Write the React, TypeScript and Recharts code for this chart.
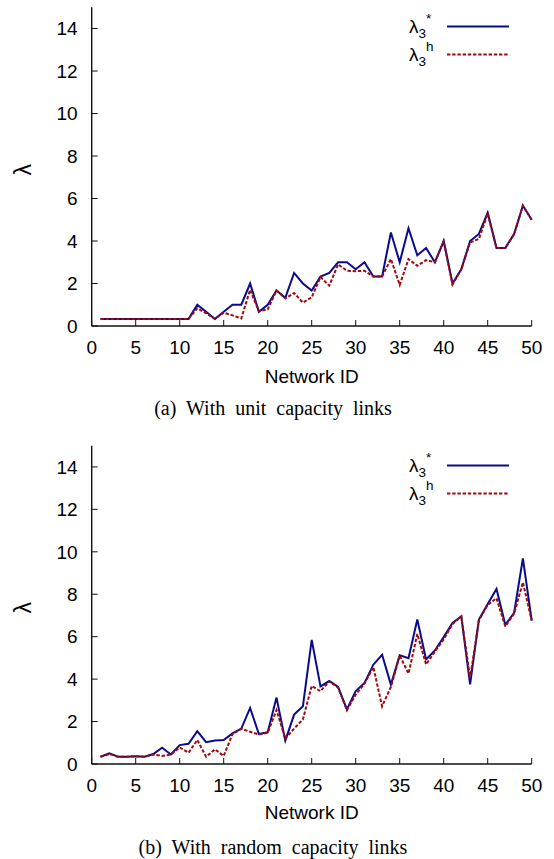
import { LineChart, Line, XAxis, YAxis, Legend } from 'recharts';

// network ids along the x axis
const NETWORK_IDS = [
  1, 2, 3, 4, 5, 6, 7, 8, 9, 10, 11, 12, 13, 14, 15, 16, 17, 18, 19, 20, 21, 22, 23, 24, 25,
  26, 27, 28, 29, 30, 31, 32, 33, 34, 35, 36, 37, 38, 39, 40, 41, 42, 43, 44, 45, 46, 47, 48, 49, 50,
];

// (a) unit capacity links
const UNIT_OPT = [
  0.33, 0.33, 0.33, 0.33, 0.33, 0.33, 0.33, 0.33, 0.33, 0.33, 0.33, 1.0, 0.67, 0.33, 0.67, 1.0, 1.0,
  2.0, 0.67, 1.0, 1.67, 1.33, 2.5, 2.0, 1.67, 2.33, 2.5, 3.0, 3.0, 2.67, 3.0, 2.33, 2.33, 4.4, 3.0,
  4.6, 3.33, 3.67, 3.0, 4.0, 2.0, 2.67, 4.0, 4.33, 5.33, 3.67, 3.67, 4.33, 5.67, 5.0,
];
const UNIT_HEUR = [
  0.33, 0.33, 0.33, 0.33, 0.33, 0.33, 0.33, 0.33, 0.33, 0.33, 0.33, 0.83, 0.6, 0.33, 0.63, 0.5, 0.36,
  1.7, 0.7, 0.78, 1.67, 1.3, 1.55, 1.1, 1.35, 2.3, 1.9, 2.9, 2.6, 2.58, 2.6, 2.33, 2.33, 3.15, 1.93,
  3.15, 2.83, 3.1, 3.0, 4.0, 1.95, 2.67, 3.93, 4.1, 5.3, 3.67, 3.67, 4.33, 5.66, 5.0,
];

// (b) random capacity links
const RAND_OPT = [
  0.34, 0.5, 0.34, 0.34, 0.37, 0.34, 0.47, 0.77, 0.45, 0.89, 0.95, 1.55, 1.03, 1.11, 1.13, 1.44, 1.67,
  2.64, 1.41, 1.5, 3.13, 1.1, 2.33, 2.72, 5.85, 3.66, 3.91, 3.63, 2.57, 3.44, 3.82, 4.68, 5.15, 3.74,
  5.12, 4.99, 6.81, 4.93, 5.35, 5.98, 6.65, 6.96, 3.75, 6.81, 7.54, 8.25, 6.56, 7.12, 9.69, 6.76,
];
const RAND_HEUR = [
  0.34, 0.47, 0.34, 0.34, 0.37, 0.34, 0.45, 0.38, 0.45, 0.78, 0.53, 1.13, 0.34, 0.69, 0.38, 1.41, 1.66,
  1.52, 1.39, 1.47, 2.54, 1.2, 1.67, 2.1, 3.68, 3.43, 3.9, 3.6, 2.54, 3.27, 3.79, 4.57, 2.72, 3.63,
  5.12, 4.26, 6.13, 4.69, 5.3, 5.87, 6.6, 6.95, 4.05, 6.76, 7.5, 7.81, 6.48, 7.09, 8.56, 6.76,
];

const X_TICKS = [0, 5, 10, 15, 20, 25, 30, 35, 40, 45, 50];
const Y_TICKS = [0, 2, 4, 6, 8, 10, 12, 14];
const LEGEND_SUB = '3';
const LEGEND_SUP = ['*', 'h'];

const BLUE = '#0a0a8e';
const RED = '#a00a0a';
const SANS = '"Liberation Sans", Arial, sans-serif';
const SERIF = '"Liberation Serif", "Times New Roman", serif';
const FRAME = { stroke: '#111', strokeWidth: 1.4 };
const TICK_LEN = 6;
const X_GAP = 14.5;
const Y_GAP = 14;
const FONT = 19;

const buildRows = (opt: number[], heur: number[]) =>
  NETWORK_IDS.map((id, i) => ({ id, opt: opt[i], heur: heur[i] }));

const BottomTick = ({ x, y, payload }: any) => (
  <g>
    <line x1={x} x2={x} y1={y - X_GAP} y2={y - X_GAP - TICK_LEN} stroke="#111" />
    <text x={x} y={y} dy="0.71em" textAnchor="middle" fontFamily={SANS} fontSize={FONT} fill="#000">
      {payload.value}
    </text>
  </g>
);

const LeftTick = ({ x, y, payload }: any) => (
  <g>
    <line x1={x + Y_GAP} x2={x + Y_GAP + TICK_LEN} y1={y} y2={y} stroke="#111" />
    <text x={x} y={y} dy="0.355em" textAnchor="end" fontFamily={SANS} fontSize={FONT} fill="#000">
      {payload.value}
    </text>
  </g>
);

const TopTick = ({ x, y }: any) => <line x1={x} x2={x} y1={y} y2={y + TICK_LEN} stroke="#111" />;
const RightTick = ({ x, y }: any) => <line x1={x} x2={x - TICK_LEN} y1={y} y2={y} stroke="#111" />;

const renderLegend = ({ payload }: any) => (
  <svg width={140} height={64} style={{ display: 'block' }}>
    {(payload || []).map((entry: any, i: number) => {
      const ly = 19.5 + 28 * i;
      return (
        <g key={i}>
          <text x={29} y={ly + 6.7} fontFamily={SANS} fontSize={19} fill="#000">
            λ
            <tspan fontSize={13.5} dy={4.5}>{LEGEND_SUB}</tspan>
            <tspan fontSize={13.5} dy={-15}>{LEGEND_SUP[i]}</tspan>
          </text>
          <line
            x1={67}
            x2={129}
            y1={ly}
            y2={ly}
            stroke={entry.color}
            strokeWidth={2}
            strokeDasharray={entry.payload?.strokeDasharray}
          />
        </g>
      );
    })}
  </svg>
);

interface PanelProps {
  opt: number[];
  heur: number[];
  height: number;
  plotTop: number;
  plotBottom: number;
  labelGap: number;
}

function Panel({ opt, heur, height, plotTop, plotBottom, labelGap }: PanelProps) {
  const data = buildRows(opt, heur);
  const xAxisHeight = 50;
  return (
    <LineChart
      width={554}
      height={height}
      data={data}
      margin={{ top: plotTop, right: 22.3, bottom: height - plotBottom - xAxisHeight, left: 10 }}
    >
      <XAxis
        dataKey="id"
        type="number"
        domain={[0, 50]}
        ticks={X_TICKS}
        height={xAxisHeight}
        tickSize={0}
        tickMargin={X_GAP}
        tickLine={false}
        axisLine={FRAME}
        tick={BottomTick}
        label={{
          content: ({ viewBox }: any) => (
            <text
              x={viewBox.x + viewBox.width / 2}
              y={viewBox.y + labelGap}
              textAnchor="middle"
              dominantBaseline="central"
              fontFamily={SANS}
              fontSize={FONT}
              fill="#000"
            >
              Network ID
            </text>
          ),
        }}
      />
      <XAxis
        xAxisId="top"
        orientation="top"
        type="number"
        domain={[0, 50]}
        ticks={X_TICKS}
        height={0}
        tickSize={0}
        tickMargin={0}
        tickLine={false}
        axisLine={FRAME}
        tick={TopTick}
      />
      <YAxis
        type="number"
        domain={[0, 15]}
        ticks={Y_TICKS}
        width={81.7}
        tickSize={0}
        tickMargin={Y_GAP}
        tickLine={false}
        axisLine={FRAME}
        tick={LeftTick}
        label={{
          content: ({ viewBox }: any) => {
            const cx = viewBox.x + 13;
            const cy = viewBox.y + viewBox.height / 2 + 3;
            return (
              <text
                x={cx}
                y={cy}
                transform={`rotate(-90 ${cx} ${cy})`}
                textAnchor="middle"
                dominantBaseline="central"
                fontFamily={SANS}
                fontSize={23}
                fill="#000"
              >
                λ
              </text>
            );
          },
        }}
      />
      <YAxis
        yAxisId="right"
        orientation="right"
        type="number"
        domain={[0, 15]}
        ticks={Y_TICKS}
        width={0}
        tickSize={0}
        tickMargin={0}
        tickLine={false}
        axisLine={FRAME}
        tick={RightTick}
      />
      <Legend
        layout="vertical"
        align="center"
        verticalAlign="middle"
        wrapperStyle={{ position: 'absolute', left: 380, top: plotTop, width: 140, height: 64 }}
        content={renderLegend}
      />
      <Line
        type="linear"
        dataKey="opt"
        name="λ3*"
        stroke={BLUE}
        strokeWidth={2}
        dot={false}
        activeDot={false}
        isAnimationActive={false}
      />
      <Line
        type="linear"
        dataKey="heur"
        name="λ3h"
        stroke={RED}
        strokeWidth={2}
        strokeDasharray="3.4 1.8"
        dot={false}
        activeDot={false}
        isAnimationActive={false}
      />
    </LineChart>
  );
}

const captionStyle = (top: number): React.CSSProperties => ({
  position: 'absolute',
  left: 73,
  top,
  width: 400,
  height: 22,
  lineHeight: '22px',
  textAlign: 'center',
  fontFamily: SERIF,
  fontSize: 20,
  wordSpacing: 5,
  color: '#000',
});

export default function App() {
  return (
    <div style={{ position: 'absolute', left: 0, top: 0, width: 554, height: 859, background: '#fff' }}>
      <div style={{ position: 'absolute', left: 0, top: 0 }}>
        <Panel opt={UNIT_OPT} heur={UNIT_HEUR} height={430} plotTop={7.3} plotBottom={326} labelGap={50} />
      </div>
      <div style={captionStyle(397)}>(a) With unit capacity links</div>
      <div style={{ position: 'absolute', left: 0, top: 430 }}>
        <Panel opt={RAND_OPT} heur={RAND_HEUR} height={429} plotTop={15.7} plotBottom={334} labelGap={48} />
      </div>
      <div style={captionStyle(836)}>(b) With random capacity links</div>
    </div>
  );
}
